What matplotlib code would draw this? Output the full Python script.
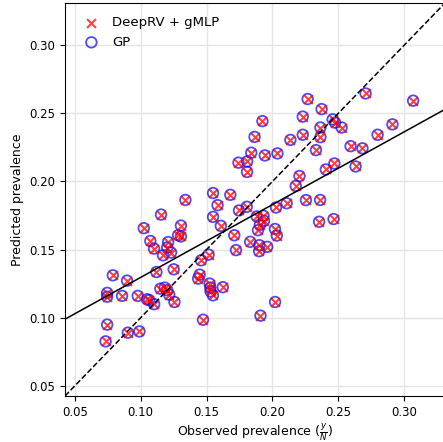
import numpy as np
import matplotlib
matplotlib.use("Agg")
import matplotlib.pyplot as plt

observed = [
    0.0733, 0.0745, 0.0745, 0.0745, 0.0788, 0.0858, 0.0896, 0.0902, 0.0990, 0.0977,
    0.1048, 0.1064, 0.1102, 0.1023, 0.1154, 0.1073, 0.1101, 0.1169, 0.1208, 0.1201,
    0.1230, 0.1284, 0.1305, 0.1305, 0.1339, 0.1119, 0.1250, 0.1149, 0.1182, 0.1201,
    0.1216, 0.1256, 0.1473, 0.1447, 0.1436, 0.1458, 0.1515, 0.1523, 0.1528, 0.1530,
    0.1548, 0.1623, 0.1549, 0.1583, 0.1549, 0.1680, 0.1608, 0.1710, 0.1723, 0.1746,
    0.1805, 0.1807, 0.1742, 0.1808, 0.1839, 0.1864, 0.1924, 0.1942, 0.2038, 0.1881,
    0.1932, 0.1936, 0.1905, 0.1890, 0.2019, 0.2033, 0.1831, 0.1900, 0.1899, 0.1960,
    0.2020, 0.1909, 0.2027, 0.2108, 0.2254, 0.2362, 0.2354, 0.2464, 0.2177, 0.2205,
    0.2136, 0.2230, 0.2230, 0.2267, 0.2373, 0.2364, 0.2364, 0.2330, 0.2457, 0.2475,
    0.2525, 0.2405, 0.2470, 0.2631, 0.2593, 0.2683, 0.2798, 0.2911, 0.2707, 0.3068,
]

deeprv_pred = [
    0.0826, 0.0949, 0.1182, 0.1154, 0.1311, 0.1160, 0.1272, 0.0890, 0.0899, 0.1160,
    0.1135, 0.1129, 0.1099, 0.1657, 0.1757, 0.1563, 0.1507, 0.1458, 0.1555, 0.1515,
    0.1478, 0.1605, 0.1596, 0.1676, 0.1864, 0.1335, 0.1355, 0.1213, 0.1221, 0.1202,
    0.1169, 0.1115, 0.0985, 0.1316, 0.1287, 0.1421, 0.1463, 0.1250, 0.1221, 0.1193,
    0.1164, 0.1224, 0.1740, 0.1826, 0.1915, 0.1902, 0.1674, 0.1605, 0.1496, 0.1787,
    0.1814, 0.2070, 0.2138, 0.2147, 0.2211, 0.2327, 0.2443, 0.2191, 0.2206, 0.1743,
    0.1748, 0.1711, 0.1682, 0.1642, 0.1651, 0.1603, 0.1557, 0.1532, 0.1488, 0.1520,
    0.1115, 0.1015, 0.1809, 0.1840, 0.1863, 0.1864, 0.1704, 0.1724, 0.1967, 0.2040,
    0.2305, 0.2343, 0.2476, 0.2605, 0.2531, 0.2396, 0.2325, 0.2230, 0.2456, 0.2432,
    0.2396, 0.2088, 0.2132, 0.2110, 0.2259, 0.2243, 0.2343, 0.2419, 0.2646, 0.2593,
]

# GP predictions are visually indistinguishable from DeepRV + gMLP at this resolution
gp_pred = list(deeprv_pred)

# Fitted trend line
fit_slope = 0.534
fit_intercept = 0.0762

x_ticks = [0.05, 0.10, 0.15, 0.20, 0.25, 0.30]
y_ticks = [0.05, 0.10, 0.15, 0.20, 0.25, 0.30]
lims = (0.0425, 0.331)

fig = plt.figure(figsize=(4.43, 4.42), dpi=100)
ax = fig.add_axes([65 / 443, 46 / 442, 380 / 443, 393 / 442])

ax.grid(True, color="#e5e5e5", linewidth=1.0, zorder=0)
ax.set_axisbelow(True)

ax.scatter(observed, deeprv_pred, marker="x", color="red", s=40, linewidths=1.5,
           alpha=0.75, label="DeepRV + gMLP", zorder=3)
ax.scatter(observed, gp_pred, marker="o", facecolors="none", edgecolors="blue",
           s=58, linewidths=1.3, alpha=0.7, label="GP", zorder=2)

ax.axline((0, fit_intercept), slope=fit_slope, color="black", linewidth=1.1, zorder=4)
ax.axline((0, 0), slope=1, color="black", linestyle="--", linewidth=1.1, zorder=4)

ax.set_xlim(lims)
ax.set_ylim(lims)
ax.set_xticks(x_ticks)
ax.set_yticks(y_ticks)
ax.set_xticklabels([f"{t:.2f}" for t in x_ticks], fontsize=8.5)
ax.set_yticklabels([f"{t:.2f}" for t in y_ticks], fontsize=8.5)
ax.set_xlabel(r"Observed prevalence ($\frac{y}{N}$)", fontsize=9, labelpad=2)
ax.set_ylabel("Predicted prevalence", fontsize=9)

ax.legend(loc="upper left", frameon=False, fontsize=9.5, handletextpad=0.6,
          borderaxespad=0.6)

fig.savefig("out.png", dpi=100)
